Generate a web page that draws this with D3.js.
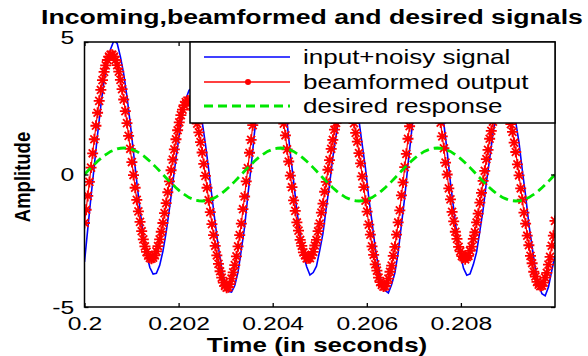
<!DOCTYPE html>
<html><head><meta charset="utf-8">
<script src="https://cdn.jsdelivr.net/npm/d3@7"></script>
<style>
html,body{margin:0;padding:0;background:#fff;}
svg{display:block;}
</style></head><body>
<svg id="c" width="588" height="356"></svg>
<script>
// ---------- data ----------
const title = "Incoming,beamformed and desired signals";
const xLabel = "Time (in seconds)";
const yLabel = "Amplitude";
const xTicks = [0.2, 0.202, 0.204, 0.206, 0.208];
const xTickLabels = ["0.2", "0.202", "0.204", "0.206", "0.208"];
const yTicks = [-5, 0, 5];
const yTickLabels = ["-5", "0", "5"];
const seriesNames = ["input+noisy signal", "beamformed output", "desired response"];
const tStart = 0.2, tEnd = 0.21;

// input + noisy signal (145 samples over 0.2 .. 0.21 s)
const inputNoisy = [
 -3.30,-2.05,-0.83,0.34,1.51,2.60,3.54,4.27, 4.74,5.05,4.95,4.44,3.80,2.94,1.93,0.83,
 -0.28,-1.34,-2.26,-3.00,-3.51,-3.76,-3.73,-3.43, -2.90,-2.17,-1.29,-0.34,0.61,1.50,2.26,2.84,
 3.18,3.27,3.09,2.66,2.00,1.16,0.19,-0.83, -1.84,-2.76,-3.54,-4.10,-4.41,-4.44,-4.19,-3.67,
 -2.84,-1.98,-0.79,0.30,1.55,2.57,3.60,4.22, 4.78,4.90,4.86,4.40,3.84,2.90,1.97,0.79,
 -0.25,-1.38,-2.22,-3.04,-3.48,-3.79,-3.70,-3.46, -2.86,-2.21,-1.25,-0.38,0.65,1.46,2.29,2.80,
 3.22,3.24,3.12,2.62,2.04,1.12,0.23,-0.87, -1.80,-2.80,-3.50,-4.14,-4.38,-4.47,-4.15,-3.71,
 -2.94,-1.89,-0.86,0.37,1.48,2.63,3.51,4.30, 4.71,4.96,4.80,4.47,3.77,2.97,1.90,0.86,
 -0.31,-1.31,-2.29,-2.97,-3.54,-3.80,-3.75,-3.40, -2.93,-2.14,-1.32,-0.31,0.58,1.53,2.23,2.87,
 3.15,3.30,3.06,2.69,1.97,1.19,0.16,-0.80, -1.87,-2.73,-3.57,-4.16,-4.50,-4.58,-4.25,-3.64,
 -3.05
];

// beamformed output (289 samples over 0.2 .. 0.21 s)
const beamformed = [
 -1.83,-1.33,-0.81,-0.28,0.26,0.80,1.33,1.84, 2.33,2.78,3.19,3.56,3.87,4.12,4.32,4.45,
 4.52,4.52,4.45,4.32,4.13,3.88,3.57,3.22, 2.83,2.39,1.94,1.46,0.97,0.47,-0.02,-0.50,
 -0.96,-1.39,-1.79,-2.14,-2.45,-2.71,-2.92,-3.06, -3.15,-3.18,-3.14,-3.05,-2.90,-2.70,-2.45,-2.16,
 -1.83,-1.46,-1.08,-0.67,-0.26,0.16,0.56,0.95, 1.33,1.67,1.97,2.24,2.45,2.62,2.73,2.79,
 2.78,2.72,2.60,2.43,2.20,1.92,1.59,1.22, 0.83,0.40,-0.05,-0.50,-0.97,-1.42,-1.87,-2.29,
 -2.69,-3.05,-3.37,-3.65,-3.89,-4.08,-4.20,-4.27, -4.25,-4.14,-3.93,-3.69,-3.42,-3.09,-2.71,-2.29,
 -1.85,-1.31,-0.83,-0.26,0.24,0.82,1.31,1.86, 2.31,2.80,3.17,3.58,3.85,4.14,4.30,4.47,
 4.50,4.54,4.43,4.34,4.11,3.90,3.55,3.24, 2.81,2.41,1.92,1.48,0.95,0.49,-0.04,-0.48,
 -0.98,-1.37,-1.81,-2.12,-2.47,-2.69,-2.94,-3.04, -3.17,-3.16,-3.16,-3.03,-2.92,-2.68,-2.47,-2.14,
 -1.85,-1.44,-1.10,-0.65,-0.28,0.18,0.54,0.97, 1.31,1.69,1.95,2.26,2.43,2.64,2.71,2.81,
 2.76,2.74,2.58,2.45,2.18,1.94,1.57,1.24, 0.81,0.42,-0.07,-0.48,-0.99,-1.40,-1.89,-2.27,
 -2.71,-3.03,-3.39,-3.63,-3.89,-4.06,-4.17,-4.23, -4.21,-4.10,-3.93,-3.67,-3.44,-3.07,-2.73,-2.27,
 -1.81,-1.35,-0.79,-0.30,0.28,0.78,1.35,1.82, 2.35,2.76,3.21,3.54,3.89,4.10,4.34,4.43,
 4.54,4.50,4.47,4.30,4.15,3.86,3.59,3.20, 2.85,2.37,1.96,1.44,0.99,0.45,0.00,-0.52,
 -0.94,-1.41,-1.77,-2.16,-2.43,-2.73,-2.90,-3.08, -3.13,-3.20,-3.12,-3.07,-2.88,-2.72,-2.43,-2.18,
 -1.81,-1.48,-1.06,-0.69,-0.24,0.14,0.58,0.93, 1.35,1.65,1.99,2.22,2.47,2.60,2.75,2.77,
 2.80,2.70,2.62,2.41,2.22,1.90,1.61,1.20, 0.85,0.38,-0.03,-0.52,-0.95,-1.44,-1.85,-2.31,
 -2.67,-3.07,-3.35,-3.67,-3.85,-4.05,-4.16,-4.21, -4.19,-4.08,-3.89,-3.71,-3.40,-3.11,-2.69,-2.31,
 -1.75
];

// desired response (145 samples over 0.2 .. 0.21 s)
const desired = [
 0,0.13,0.26,0.38,0.50,0.61,0.71,0.79,0.87,0.92,0.97,0.99,1.00,0.99,0.97,0.92,0.87,0.79,0.71,0.61,0.50,0.38,0.26,0.13,
 0,-0.13,-0.26,-0.38,-0.50,-0.61,-0.71,-0.79,-0.87,-0.92,-0.97,-0.99,-1.00,-0.99,-0.97,-0.92,-0.87,-0.79,-0.71,-0.61,-0.50,-0.38,-0.26,-0.13,
 0,0.13,0.26,0.38,0.50,0.61,0.71,0.79,0.87,0.92,0.97,0.99,1.00,0.99,0.97,0.92,0.87,0.79,0.71,0.61,0.50,0.38,0.26,0.13,
 0,-0.13,-0.26,-0.38,-0.50,-0.61,-0.71,-0.79,-0.87,-0.92,-0.97,-0.99,-1.00,-0.99,-0.97,-0.92,-0.87,-0.79,-0.71,-0.61,-0.50,-0.38,-0.26,-0.13,
 0,0.13,0.26,0.38,0.50,0.61,0.71,0.79,0.87,0.92,0.97,0.99,1.00,0.99,0.97,0.92,0.87,0.79,0.71,0.61,0.50,0.38,0.26,0.13,
 0,-0.13,-0.26,-0.38,-0.50,-0.61,-0.71,-0.79,-0.87,-0.92,-0.97,-0.99,-1.00,-0.99,-0.97,-0.92,-0.87,-0.79,-0.71,-0.61,-0.50,-0.38,-0.26,-0.13,
 0
];

// ---------- drawing ----------
const FONT = '"Liberation Sans", Arial, Helvetica, sans-serif';
const SX = 1.3;
const X0 = 84.5, X1 = 555, Y0 = 42, Y1 = 307;
const svg = d3.select("#c");
const x = d3.scaleLinear().domain([tStart, tEnd]).range([X0, X1]);
const y = d3.scaleLinear().domain([-5, 5]).range([Y1, Y0]);

const grid = n => d3.range(n).map(i => tStart + i * (tEnd - tStart) / (n - 1));
const tIn = grid(inputNoisy.length), tBf = grid(beamformed.length), tDs = grid(desired.length);

svg.append("rect").attr("width", 588).attr("height", 356).attr("fill", "#fff");
svg.append("defs").append("clipPath").attr("id", "clip")
  .append("rect").attr("x", X0).attr("y", Y0).attr("width", X1 - X0).attr("height", Y1 - Y0);

const plot = svg.append("g").attr("clip-path", "url(#clip)");
const lineOf = ts => d3.line().x((d, i) => x(ts[i])).y(d => y(d));

plot.append("path").datum(inputNoisy).attr("d", lineOf(tIn))
  .attr("fill", "none").attr("stroke", "#0000ff").attr("stroke-width", 1.6);

plot.append("path").datum(beamformed).attr("d", lineOf(tBf))
  .attr("fill", "none").attr("stroke", "#ff0000").attr("stroke-width", 1.2);

const rx = 5.5, ry = 5.5, dx = rx * 0.72, dy = ry * 0.72;
const star = `M${-rx},0H${rx}M0,${-ry}V${ry}M${-dx},${-dy}L${dx},${dy}M${-dx},${dy}L${dx},${-dy}`;
plot.append("g").selectAll("path").data(beamformed).join("path")
  .attr("transform", (d, i) => `translate(${x(tBf[i])},${y(d)})`)
  .attr("d", star).attr("fill", "none").attr("stroke", "#ff0000").attr("stroke-width", 1.8);

plot.append("path").datum(desired).attr("d", lineOf(tDs))
  .attr("fill", "none").attr("stroke", "#00e600").attr("stroke-width", 2.8)
  .attr("stroke-dasharray", "9,5");

// axes
function styleAxis(g) {
  g.select(".domain").remove();
  g.selectAll("line").attr("stroke", "#000").attr("stroke-width", 1.3);
  g.selectAll("text").attr("font-family", FONT).attr("font-size", 19).attr("fill", "#000")
    .attr("transform", `scale(${SX},1)`);
}
svg.append("g").attr("transform", `translate(0,${Y1})`)
  .call(d3.axisBottom(x).tickValues(xTicks).tickFormat((d, i) => xTickLabels[i])
    .tickSizeInner(-4).tickSizeOuter(0).tickPadding(10)).call(styleAxis);
svg.append("g").attr("transform", `translate(0,${Y0})`)
  .call(d3.axisTop(x).tickValues(xTicks).tickFormat("").tickSizeInner(-4).tickSizeOuter(0)).call(styleAxis);
const gy = svg.append("g").attr("transform", `translate(${X0},0)`)
  .call(d3.axisLeft(y).tickValues(yTicks).tickFormat((d, i) => yTickLabels[i])
    .tickSizeInner(-4).tickSizeOuter(0).tickPadding(8)).call(styleAxis);
gy.selectAll(".tick").filter(d => d === 5).select("text").attr("dy", "0.1em");
svg.append("g").attr("transform", `translate(${X1},0)`)
  .call(d3.axisRight(y).tickValues(yTicks).tickFormat("").tickSizeInner(-4).tickSizeOuter(0)).call(styleAxis);

svg.append("rect").attr("x", X0).attr("y", Y0).attr("width", X1 - X0).attr("height", Y1 - Y0)
  .attr("fill", "none").attr("stroke", "#000").attr("stroke-width", 1.5);

// legend
const lg = svg.append("g");
lg.append("rect").attr("x", 190).attr("y", Y0).attr("width", X1 - 190).attr("height", 81)
  .attr("fill", "#fff").attr("stroke", "#000").attr("stroke-width", 1.5);
const rows = [57, 82, 106];
const colors = ["#0000ff", "#ff0000", "#00e600"];
seriesNames.forEach((name, i) => {
  const ln = lg.append("line").attr("x1", 204).attr("x2", 290).attr("y1", rows[i]).attr("y2", rows[i])
    .attr("stroke", colors[i]).attr("stroke-width", i === 2 ? 2.8 : 1.3);
  if (i === 2) ln.attr("stroke-dasharray", "9,5");
  if (i === 1) lg.append("circle").attr("cx", 248).attr("cy", rows[i]).attr("r", 3).attr("fill", "#ff0000");
  lg.append("text").attr("transform", `translate(303,${rows[i] + 6.5}) scale(${SX},1)`)
    .attr("font-family", FONT).attr("font-size", 20).attr("fill", "#000").text(name);
});

// titles
svg.append("text").attr("transform", `translate(312,24) scale(${SX},1)`)
  .attr("text-anchor", "middle").attr("font-family", FONT).attr("font-size", 20.5)
  .attr("font-weight", "bold").attr("fill", "#000").text(title);
svg.append("text").attr("transform", `translate(317,352) scale(${SX},1)`)
  .attr("text-anchor", "middle").attr("font-family", FONT).attr("font-size", 20)
  .attr("font-weight", "bold").attr("fill", "#000").text(xLabel);
svg.append("text").attr("transform", `translate(30,177) scale(1.2,1) rotate(-90)`)
  .attr("text-anchor", "middle").attr("font-family", FONT).attr("font-size", 18.5)
  .attr("font-weight", "bold").attr("fill", "#000").text(yLabel);
</script>
</body></html>
